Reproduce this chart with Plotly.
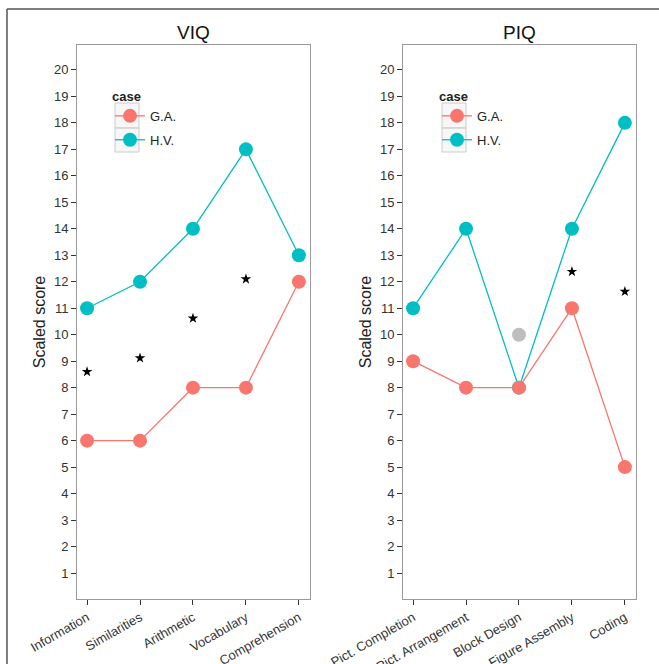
import plotly.graph_objects as go

W, H = 659, 664

viq_cats = ["Information", "Similarities", "Arithmetic", "Vocabulary", "Comprehension"]
viq_ga = [6, 6, 8, 8, 12]
viq_hv = [11, 12, 14, 17, 13]
viq_star = [8.6, 9.12, 10.62, 12.1, None]

piq_cats = ["Pict. Completion", "Pict. Arrangement", "Block Design", "Figure Assembly", "Coding"]
piq_ga = [9, 8, 8, 11, 5]
piq_hv = [11, 14, 8, 14, 18]
piq_star = [None, None, None, 12.38, 11.63]
piq_gray_cat = ["Block Design"]
piq_gray_val = [10]

y_ticks = list(range(1, 21))

RED = "#F8766D"
TEAL = "#00BFC4"
FONT = "Liberation Sans, Arial, sans-serif"

fig = go.Figure()

def add_panel(cats, ga, hv, star, xa, ya, legend):
    idx = list(range(len(cats)))
    fig.add_trace(go.Scatter(x=idx, y=hv, mode="lines+markers", name="H.V.",
                             line=dict(color=TEAL, width=1.3),
                             marker=dict(color=TEAL, size=14),
                             xaxis=xa, yaxis=ya, legend=legend, legendrank=2,
                             legendgroup="hv" + legend))
    fig.add_trace(go.Scatter(x=idx, y=ga, mode="lines+markers", name="G.A.",
                             line=dict(color=RED, width=1.3),
                             marker=dict(color=RED, size=14),
                             xaxis=xa, yaxis=ya, legend=legend, legendrank=1,
                             legendgroup="ga" + legend))
    fig.add_trace(go.Scatter(x=idx, y=star, mode="markers", showlegend=False,
                             marker=dict(symbol="star", color="black", size=8),
                             xaxis=xa, yaxis=ya))

add_panel(viq_cats, viq_ga, viq_hv, viq_star, "x", "y", "legend")
add_panel(piq_cats, piq_ga, piq_hv, piq_star, "x2", "y2", "legend2")
fig.add_trace(go.Scatter(x=[piq_cats.index(c) for c in piq_gray_cat], y=piq_gray_val,
                         mode="markers", showlegend=False,
                         marker=dict(color="#BEBEBE", size=14),
                         xaxis="x2", yaxis="y2"))

ydom = [1 - 599 / H, 1 - 45 / H]
xd1 = [77 / W, 310 / W]
xd2 = [403 / W, 636 / W]

axis_common = dict(showgrid=False, zeroline=False, showline=True, mirror=True,
                   linecolor="#9a9a9a", linewidth=1, ticks="outside", ticklen=5,
                   tickcolor="#333333", automargin=False,
                   tickfont=dict(size=13, color="#333333", family=FONT))

def xaxis(dom, cats, anchor):
    return dict(domain=dom, range=[-0.19, len(cats) - 1 + 0.21], tickmode="array",
                tickvals=list(range(len(cats))), ticktext=cats, tickangle=-30,
                anchor=anchor, **axis_common)

def yaxis(anchor):
    return dict(domain=ydom, range=[0.02, 20.94], tickmode="array", tickvals=y_ticks,
                anchor=anchor,
                title=dict(text="Scaled score", font=dict(size=16, color="#222222", family=FONT),
                           standoff=4),
                **axis_common)

legend_common = dict(title=dict(text="<b>case</b>", font=dict(size=13, color="#222", family=FONT)),
                     font=dict(size=13, color="#222", family=FONT),
                     bgcolor="rgba(0,0,0,0)", itemwidth=30, tracegroupgap=4,
                     xanchor="left", yanchor="top")

shapes = [
    dict(type="line", xref="paper", yref="paper", x0=7 / W, x1=1, y0=1 - 9 / H, y1=1 - 9 / H,
         line=dict(color="#555555", width=1.5)),
    dict(type="line", xref="paper", yref="paper", x0=7 / W, x1=7 / W, y0=0, y1=1 - 9 / H,
         line=dict(color="#555555", width=1.5)),
]
for lx in (115, 442):
    for top, bot in ((103, 128), (128, 152)):
        shapes.append(dict(type="rect", xref="paper", yref="paper",
                           x0=lx / W, x1=(lx + 24) / W, y0=1 - bot / H, y1=1 - top / H,
                           line=dict(color="#cccccc", width=1), fillcolor="rgba(242,242,242,0.6)",
                           layer="below"))

fig.update_layout(
    width=W, height=H, margin=dict(l=0, r=0, t=0, b=0, autoexpand=False),
    paper_bgcolor="white", plot_bgcolor="white",
    font=dict(family=FONT),
    xaxis=xaxis(xd1, viq_cats, "y"),
    yaxis=yaxis("x"),
    xaxis2=xaxis(xd2, piq_cats, "y2"),
    yaxis2=yaxis("x2"),
    legend=dict(x=110 / W, y=1 - 84 / H, **legend_common),
    legend2=dict(x=437 / W, y=1 - 84 / H, **legend_common),
    shapes=shapes,
    annotations=[
        dict(text="VIQ", x=193 / W, y=1 - 33 / H, xref="paper", yref="paper", showarrow=False,
             xanchor="center", yanchor="middle",
             font=dict(size=19, color="#111", family=FONT)),
        dict(text="PIQ", x=519 / W, y=1 - 33 / H, xref="paper", yref="paper", showarrow=False,
             xanchor="center", yanchor="middle",
             font=dict(size=19, color="#111", family=FONT)),
    ],
)

fig.write_html("out.html", config={"displayModeBar": False},
               post_script="document.body.style.margin='0px';document.body.style.overflow='hidden';")
